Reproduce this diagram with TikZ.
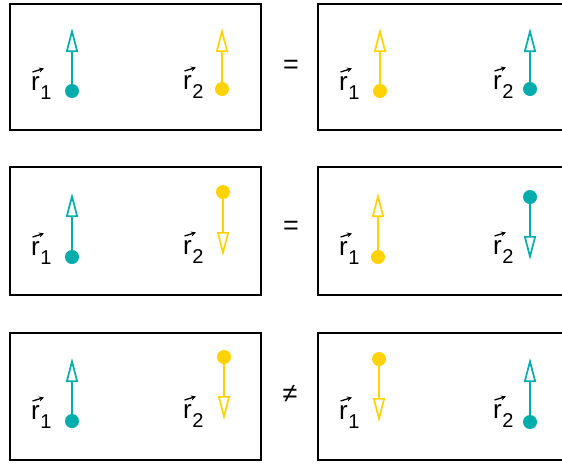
\documentclass[tikz,border=0pt]{standalone}
\usepackage{fontspec}
\setmainfont{Liberation Sans}
\usetikzlibrary{arrows.meta,calc}
\definecolor{tealc}{RGB}{0,172,172}
\definecolor{yelc}{RGB}{255,210,0}
\newcommand{\rlab}[1]{{\fontsize{26}{26}\selectfont r\kern0.5pt\raisebox{-9pt}{\fontsize{20}{20}\selectfont #1}}}
\tikzset{
  frame/.style={draw=black, line width=1.7pt},
  lab/.style={anchor=base west, inner sep=0pt},
  rel/.style={inner sep=0pt, font=\fontsize{27}{27}\selectfont},
  dotnode/.style={circle, fill=#1, inner sep=0pt, minimum size=14pt},
  vecarrow/.style={draw=#1, line width=1.7pt, -{Triangle[open, length=24pt, width=12pt, line width=1.7pt]}},
  overarrow/.style={draw=black, line width=1.3pt, -{Stealth[length=5pt, width=5pt]}}
}
\newcommand{\overvec}[1]{\draw[overarrow] ($(#1.base west)+(1.5,-18)$) -- ($(#1.base west)+(13,-21.5)$);}
\begin{document}
\begin{tikzpicture}[x=1pt, y=-1pt]
\useasboundingbox (0,0) rectangle (562,464);
\clip (0,0) rectangle (562,464);
\fill[white] (0,0) rectangle (562,464);
% frames
\draw[frame] (10,4) rectangle (261,130);
\draw[frame] (580,4) -- (318,4) -- (318,130) -- (580,130);
\draw[frame] (10,167) rectangle (261,295);
\draw[frame] (580,167) -- (318,167) -- (318,295) -- (580,295);
\draw[frame] (10,333) rectangle (261,460);
\draw[frame] (580,333) -- (318,333) -- (318,460) -- (580,460);
% relations
\node[rel] (eqa) at (291,67) {=};
\node[rel] (eqb) at (291,228) {=};
\node[rel] (neq) at (290,394) {≠};
% row 1 left
\node[dotnode=tealc] (d1) at (72,91) {};
\coordinate (t1) at (72,28);
\draw[vecarrow=tealc] (d1) -- (t1);
\node[dotnode=yelc] (d2) at (222,89) {};
\coordinate (t2) at (222,28);
\draw[vecarrow=yelc] (d2) -- (t2);
\node[lab] (l1) at (31,90) {\rlab{1}};
\node[lab] (l2) at (183,89) {\rlab{2}};
% row 1 right
\node[dotnode=yelc] (d3) at (380,91) {};
\coordinate (t3) at (380,28);
\draw[vecarrow=yelc] (d3) -- (t3);
\node[dotnode=tealc] (d4) at (530,89) {};
\coordinate (t4) at (530,28);
\draw[vecarrow=tealc] (d4) -- (t4);
\node[lab] (l3) at (339,90) {\rlab{1}};
\node[lab] (l4) at (493,89) {\rlab{2}};
% row 2 left
\node[dotnode=tealc] (d5) at (72,257) {};
\coordinate (t5) at (72,193);
\draw[vecarrow=tealc] (d5) -- (t5);
\node[dotnode=yelc] (d6) at (223,192) {};
\coordinate (t6) at (223,256);
\draw[vecarrow=yelc] (d6) -- (t6);
\node[lab] (l5) at (31,255) {\rlab{1}};
\node[lab] (l6) at (183,254) {\rlab{2}};
% row 2 right
\node[dotnode=yelc] (d7) at (378,257) {};
\coordinate (t7) at (378,193);
\draw[vecarrow=yelc] (d7) -- (t7);
\node[dotnode=tealc] (d8) at (530,197) {};
\coordinate (t8) at (530,260);
\draw[vecarrow=tealc] (d8) -- (t8);
\node[lab] (l7) at (339,255) {\rlab{1}};
\node[lab] (l8) at (493,254) {\rlab{2}};
% row 3 left
\node[dotnode=tealc] (d9) at (72,421) {};
\coordinate (t9) at (72,358);
\draw[vecarrow=tealc] (d9) -- (t9);
\node[dotnode=yelc] (d10) at (224,357) {};
\coordinate (t10) at (224,420);
\draw[vecarrow=yelc] (d10) -- (t10);
\node[lab] (l9) at (31,419) {\rlab{1}};
\node[lab] (l10) at (183,418) {\rlab{2}};
% row 3 right
\node[dotnode=yelc] (d11) at (379,359) {};
\coordinate (t11) at (379,422);
\draw[vecarrow=yelc] (d11) -- (t11);
\node[dotnode=tealc] (d12) at (530,422) {};
\coordinate (t12) at (530,358);
\draw[vecarrow=tealc] (d12) -- (t12);
\node[lab] (l11) at (339,419) {\rlab{1}};
\node[lab] (l12) at (493,418) {\rlab{2}};
% vector arrows over r
\foreach \n in {l1,l2,l3,l4,l5,l6,l7,l8,l9,l10,l11,l12} {\overvec{\n}}
\end{tikzpicture}
\end{document}
